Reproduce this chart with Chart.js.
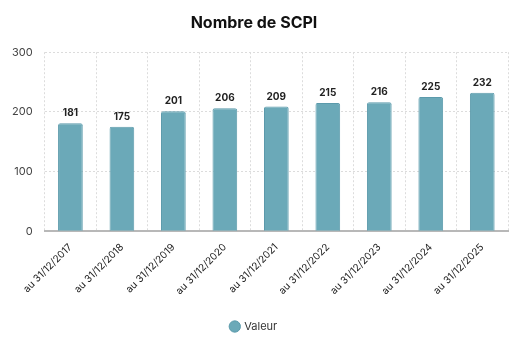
<!DOCTYPE html>
<html>
<head>
<meta charset="utf-8">
<script src="https://cdn.jsdelivr.net/npm/chart.js@4"></script>
<style>
  html, body { margin: 0; padding: 0; background: #fff; }
  #wrap { width: 512px; height: 342px; }
</style>
</head>
<body>
<div id="wrap"><canvas id="chart"></canvas></div>
<script>
// ============================
// Data
// ============================
const labels = [
  "au 31/12/2017", "au 31/12/2018", "au 31/12/2019", "au 31/12/2020", "au 31/12/2021",
  "au 31/12/2022", "au 31/12/2023", "au 31/12/2024", "au 31/12/2025"
];
const values = [181, 175, 201, 206, 209, 215, 216, 225, 232];
const yTicks = [0, 100, 200, 300];

// ============================
// Value labels above bars
// ============================
const valueLabels = {
  id: "valueLabels",
  afterDatasetsDraw(chart) {
    const ctx = chart.ctx;
    const meta = chart.getDatasetMeta(0);
    ctx.save();
    ctx.font = "bold 10px Inter";
    ctx.fillStyle = "#222";
    ctx.textAlign = "center";
    ctx.textBaseline = "bottom";
    meta.data.forEach((bar, i) => {
      ctx.fillText(values[i], bar.x, bar.y - 5);
    });
    ctx.restore();
  },
};

Chart.defaults.font.family = "Inter";

new Chart(document.getElementById("chart"), {
  type: "bar",
  data: {
    labels,
    datasets: [
      {
        label: "Valeur",
        data: values,
        backgroundColor: "#6ba9b8",
        borderColor: "#5b9aab",
        borderWidth: 1,
        borderRadius: { topLeft: 2, topRight: 2 },
        borderSkipped: "bottom",
        categoryPercentage: 0.8,
        barPercentage: 0.6,
      },
    ],
  },
  options: {
    responsive: true,
    maintainAspectRatio: false,
    animation: false,
    layout: { padding: { left: 0, right: 4, top: 0, bottom: 0 } },
    plugins: {
      title: {
        display: true,
        text: "Nombre de SCPI",
        color: "#111",
        font: { size: 16, weight: "bold" },
        padding: { top: 14, bottom: 19 },
      },
      legend: {
        position: "bottom",
        labels: {
          usePointStyle: true,
          pointStyle: "circle",
          boxWidth: 8,
          boxHeight: 8,
          color: "#333",
          font: { size: 11 },
          padding: 14,
        },
      },
      tooltip: { enabled: false },
    },
    scales: {
      x: {
        grid: {
          display: true,
          offset: true,
          color: "#dcdcdc",
          tickLength: 0,
        },
        border: { display: true, color: "#b8b8b8", width: 2, dash: [2, 2] },
        ticks: {
          color: "#222",
          font: { size: 10 },
          maxRotation: 45,
          minRotation: 45,
          padding: 10,
        },
      },
      y: {
        min: 0,
        max: 300,
        afterBuildTicks: (axis) => {
          axis.ticks = yTicks.map((v) => ({ value: v }));
        },
        grid: {
          color: "#dcdcdc",
          tickLength: 0,
        },
        border: { display: false, dash: [2, 2] },
        ticks: {
          color: "#444",
          font: { size: 11 },
          padding: 12,
        },
      },
    },
  },
  plugins: [valueLabels],
});
</script>
</body>
</html>
